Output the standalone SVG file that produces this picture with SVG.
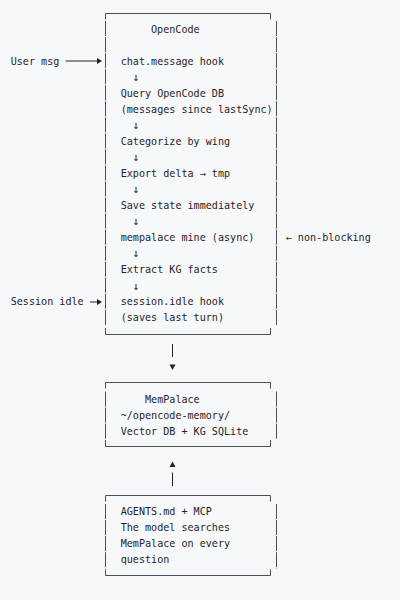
<svg xmlns="http://www.w3.org/2000/svg" width="400" height="600" viewBox="0 0 400 600">
<style>
text{font-family:"DejaVu Sans Mono","Liberation Mono",monospace;font-size:10.1px;fill:#1f2328}
text.d{font-size:11px;text-anchor:middle}
.b{fill:none;stroke:#4a5058;stroke-width:1}
.v{fill:none;stroke:#4a5058;stroke-width:1;stroke-dasharray:15.05 1}
.c{fill:none;stroke:#1f2328;stroke-width:1}
.h{fill:#1f2328}
</style>
<rect width="400" height="600" fill="#f6f8fa"/>
<g id="opencode">
<path class="b" d="M105.5,19.5 V13.5 H270.5 V19.5"/>
<line class="v" x1="105.5" y1="21" x2="105.5" y2="326"/>
<line class="v" x1="276.5" y1="21" x2="276.5" y2="326"/>
<path class="b" d="M105.5,328 V334.5 H270.5 V328"/>
<text x="151" y="32.5">OpenCode</text>
<text x="120.7" y="64.6">chat.message hook</text>
<text class="d" x="135.8" y="80.8">↓</text>
<text x="120.7" y="96.7">Query OpenCode DB</text>
<text x="120.7" y="112.7">(messages since lastSync)</text>
<text class="d" x="135.8" y="129">↓</text>
<text x="120.7" y="144.8">Categorize by wing</text>
<text class="d" x="135.8" y="161.1">↓</text>
<text x="120.7" y="176.9">Export delta → tmp</text>
<text class="d" x="135.8" y="193.2">↓</text>
<text x="120.7" y="209">Save state immediately</text>
<text class="d" x="135.8" y="225.3">↓</text>
<text x="120.7" y="241.1">mempalace mine (async)</text>
<text class="d" x="135.8" y="257.4">↓</text>
<text x="120.7" y="273.2">Extract KG facts</text>
<text class="d" x="135.8" y="289.5">↓</text>
<text x="120.7" y="305.3">session.idle hook</text>
<text x="120.7" y="321.4">(saves last turn)</text>
</g>
<g id="user-msg"><text x="10.7" y="64.6">User msg</text></g>
<g id="session-idle"><text x="10.7" y="305.3">Session idle</text></g>
<g id="non-blocking"><text x="285.7" y="241.1">← non-blocking</text></g>
<g id="mempalace">
<path class="b" d="M105.5,388.5 V382.5 H270.5 V388.5"/>
<line class="v" x1="105.5" y1="391.5" x2="105.5" y2="439"/>
<line class="v" x1="276.5" y1="391.5" x2="276.5" y2="439"/>
<path class="b" d="M105.5,440 V446.5 H270.5 V440"/>
<text x="145" y="402.5">MemPalace</text>
<text x="120.7" y="419">~/opencode-memory/</text>
<text x="120.7" y="434.8">Vector DB + KG SQLite</text>
</g>
<g id="agents">
<path class="b" d="M105.5,501.5 V495.5 H270.5 V501.5"/>
<line class="v" x1="105.5" y1="504" x2="105.5" y2="568.5"/>
<line class="v" x1="276.5" y1="504" x2="276.5" y2="568.5"/>
<path class="b" d="M105.5,569.5 V575.5 H270.5 V569.5"/>
<text x="120.7" y="515.2">AGENTS.md + MCP</text>
<text x="120.7" y="531.2">The model searches</text>
<text x="120.7" y="547.3">MemPalace on every</text>
<text x="120.7" y="563.3">question</text>
</g>
<g id="connectors">
<line class="c" x1="65.7" y1="61" x2="98" y2="61"/>
<path class="h" d="M97,58 L102,61 L97,64 Z"/>
<line class="c" x1="90" y1="302" x2="98" y2="302"/>
<path class="h" d="M97,299 L102,302 L97,305 Z"/>
<line class="c" x1="172.5" y1="344" x2="172.5" y2="357"/>
<path class="h" d="M169.5,364.5 L175.5,364.5 L172.5,370 Z"/>
<path class="h" d="M169.5,467 L175.5,467 L172.5,461.5 Z"/>
<line class="c" x1="172.5" y1="472.5" x2="172.5" y2="486"/>
</g>
</svg>
